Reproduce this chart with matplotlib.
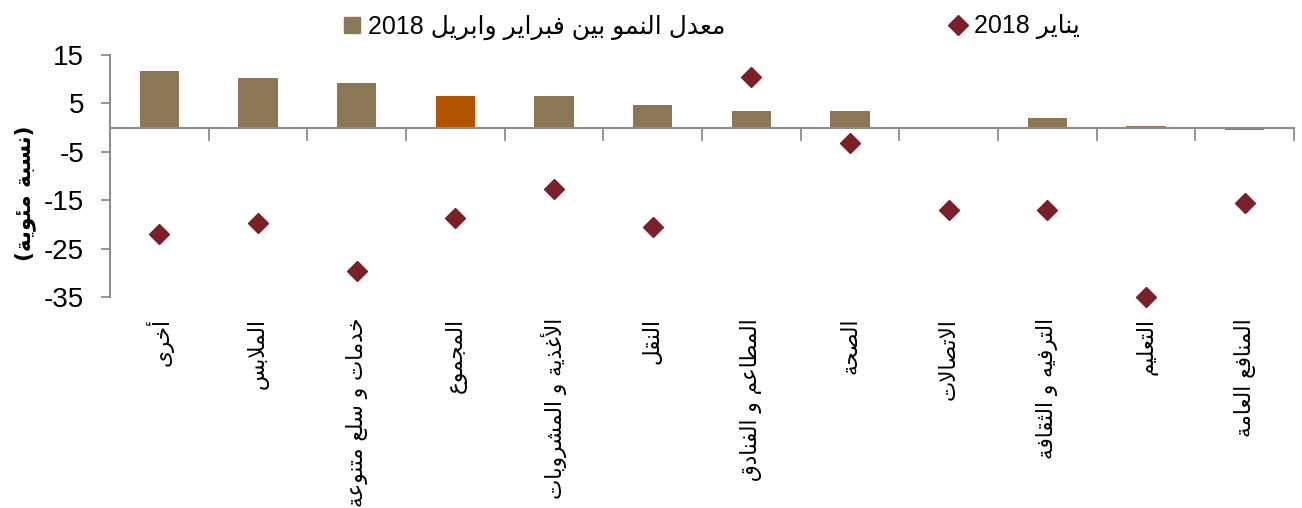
import re
import numpy as np
import matplotlib
matplotlib.use("Agg")
import matplotlib.pyplot as plt
from matplotlib.lines import Line2D

plt.rcParams["font.family"] = ["Liberation Sans", "DejaVu Sans"]

categories = ["أخرى", "الملابس", "خدمات و سلع متنوعة", "المجموع",
              "الأغذية و المشروبات", "النقل", "المطاعم و الفنادق", "الصحة",
              "الاتصالات", "الترفيه و الثقافة", "التعليم", "المنافع العامة"]
growth_feb_apr = [11.8, 10.2, 9.2, 6.6, 6.6, 4.7, 3.4, 3.4, 0.0, 2.0, 0.3, -0.5]
january = [-22.0, -19.7, -29.7, -18.7, -12.6, -20.6, 10.5, -3.1, -17.1, -17.1, -35.0, -15.5]
yticks = [15, 5, -5, -15, -25, -35]

label_bars = "معدل النمو بين فبراير وابريل 2018"
label_jan = "يناير 2018"
ylabel = "(نسبة مئوية)"

# --- minimal Arabic shaping (presentation forms) + right-to-left ordering ---
# letter -> (first presentation form, joining type: 0 none, 1 right, 2 dual)
FORMS = {
    "ء": (0xFE80, 0), "آ": (0xFE81, 1), "أ": (0xFE83, 1), "ؤ": (0xFE85, 1),
    "إ": (0xFE87, 1), "ئ": (0xFE89, 2), "ا": (0xFE8D, 1), "ب": (0xFE8F, 2),
    "ة": (0xFE93, 1), "ت": (0xFE95, 2), "ث": (0xFE99, 2), "ج": (0xFE9D, 2),
    "ح": (0xFEA1, 2), "خ": (0xFEA5, 2), "د": (0xFEA9, 1), "ذ": (0xFEAB, 1),
    "ر": (0xFEAD, 1), "ز": (0xFEAF, 1), "س": (0xFEB1, 2), "ش": (0xFEB5, 2),
    "ص": (0xFEB9, 2), "ض": (0xFEBD, 2), "ط": (0xFEC1, 2), "ظ": (0xFEC5, 2),
    "ع": (0xFEC9, 2), "غ": (0xFECD, 2), "ف": (0xFED1, 2), "ق": (0xFED5, 2),
    "ك": (0xFED9, 2), "ل": (0xFEDD, 2), "م": (0xFEE1, 2), "ن": (0xFEE5, 2),
    "ه": (0xFEE9, 2), "و": (0xFEED, 1), "ى": (0xFEEF, 1), "ي": (0xFEF1, 2),
}
LAM_ALEF = {"آ": 0xFEF5, "أ": 0xFEF7, "إ": 0xFEF9, "ا": 0xFEFB}


def shape(text):
    tokens = []
    i = 0
    while i < len(text):
        c = text[i]
        if c == "ل" and i + 1 < len(text) and text[i + 1] in LAM_ALEF:
            tokens.append((None, 1, LAM_ALEF[text[i + 1]]))
            i += 2
            continue
        if c in FORMS:
            tokens.append((c, FORMS[c][1], FORMS[c][0]))
        else:
            tokens.append((c, None, None))
        i += 1
    out = []
    for k, (c, jt, base) in enumerate(tokens):
        if jt is None:
            out.append(c)
            continue
        prev = k > 0 and tokens[k - 1][1] == 2 and jt >= 1
        nxt = jt == 2 and k + 1 < len(tokens) and tokens[k + 1][1] in (1, 2)
        if prev and nxt:
            off = 3
        elif prev:
            off = 1
        elif nxt:
            off = 2
        else:
            off = 0
        out.append(chr(base + off))
    return "".join(out)


def ar(text):
    runs = re.findall(r"[0-9A-Za-z.]+|[^0-9A-Za-z.]+", shape(text))
    mirror = str.maketrans("()", ")(")
    parts = []
    for r in reversed(runs):
        if re.match(r"[0-9A-Za-z.]", r):
            parts.append(r)
        else:
            parts.append(r[::-1].translate(mirror))
    return "".join(parts)


bar_color = "#8B7755"
total_color = "#B35300"
dot_color = "#7B2029"
axis_gray = "#8C8C8C"

fig = plt.figure(figsize=(13.02, 5.08), dpi=100)
ax = fig.add_axes([0.0845, 0.4154, 0.9094, 0.4763])

x = np.arange(len(categories))
colors = [total_color if c == "المجموع" else bar_color for c in categories]
ax.bar(x, growth_feb_apr, width=0.4, color=colors, zorder=1)
ax.plot(x, january, linestyle="none", marker="D", markersize=10.5,
        color=dot_color, zorder=3, clip_on=False)

ax.set_xlim(-0.5, len(categories) - 0.5)
ax.set_ylim(-35, 15)
ax.set_yticks(yticks)
ax.set_yticklabels([str(v) for v in yticks], fontsize=20)

# category axis sits on the zero line, ticks between categories
ax.spines["bottom"].set_position(("data", 0))
ax.set_xticks(np.arange(0.5, len(categories), 1))
ax.set_xticklabels([])
ax.tick_params(axis="x", direction="out", length=9, width=1.3, color=axis_gray)
ax.tick_params(axis="y", direction="out", length=6.5, width=1.3, color=axis_gray, pad=12)
for side in ("top", "right"):
    ax.spines[side].set_visible(False)
for side in ("left", "bottom"):
    ax.spines[side].set_color(axis_gray)
    ax.spines[side].set_linewidth(1.5)

for xi, name in zip(x, categories):
    ax.annotate(ar(name), xy=(xi, 0), xycoords=("data", "axes fraction"),
                xytext=(0, -15), textcoords="offset points",
                rotation=90, ha="center", va="top", fontsize=15.5,
                family=["DejaVu Sans"])

fig.text(25 / 1302, 0.62, ar(ylabel), rotation=90, ha="center", va="center",
         fontsize=15.5, fontweight="bold", family=["DejaVu Sans"])

handles = [
    Line2D([], [], linestyle="none", marker="s", markersize=12, color=bar_color),
    Line2D([], [], linestyle="none", marker="D", markersize=10, color=dot_color),
]
fig.legend(handles, [ar(label_bars), ar(label_jan)], ncol=2, frameon=False,
           loc="center", bbox_to_anchor=(0.545, 0.947), fontsize=18,
           handletextpad=0.15, handlelength=1.0, columnspacing=8.8)

fig.savefig("out.png", dpi=100)
